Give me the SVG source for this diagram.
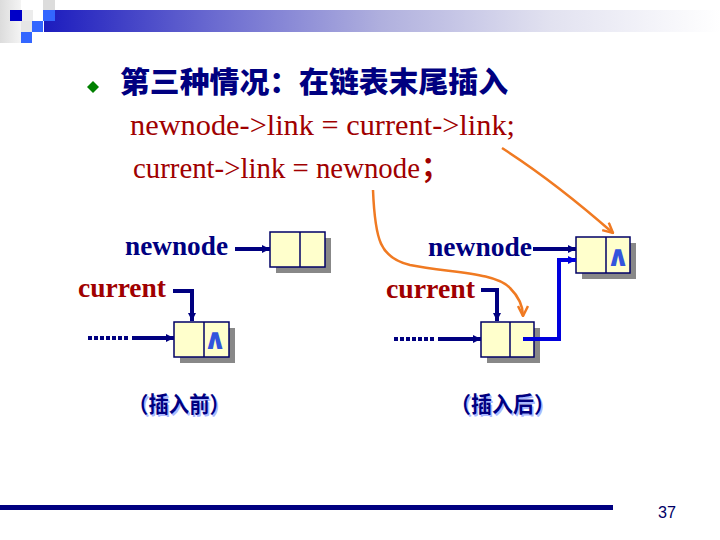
<svg xmlns="http://www.w3.org/2000/svg" width="720" height="540" viewBox="0 0 720 540">
<style>
.box{fill:#ffffcc;stroke:#000066;stroke-width:1.5}
.shadow{fill:#888888}
.div{stroke:#000066;stroke-width:1.5}
.conn{stroke:#000080;stroke-width:4;fill:none}
.connb{stroke:#0000dd;stroke-width:4;fill:none}
.dots{stroke:#000080;stroke-width:4;stroke-dasharray:4 2;fill:none}
.orange{stroke:#f07a22;stroke-width:2.5;fill:none}
.nil{font-family:"DejaVu Sans",sans-serif;font-weight:bold;font-size:29px;fill:#3355dd;text-anchor:middle}
.lblb{font-family:"Liberation Serif",serif;font-weight:bold;font-size:27px;fill:#000080}
.lblr{font-family:"Liberation Serif",serif;font-weight:bold;font-size:27px;fill:#a00000}
.code{font-family:"Liberation Serif","Noto Sans CJK SC",serif;font-size:29px;fill:#a00000}
.cap{font-family:"Noto Sans CJK SC",sans-serif;font-weight:bold;font-size:22px}
</style>
<defs>
<linearGradient id="bar" x1="0" y1="0" x2="1" y2="0">
<stop offset="0" stop-color="#1c1cbe"/>
<stop offset="0.25" stop-color="#6a6ad0"/>
<stop offset="0.5" stop-color="#b0b0de"/>
<stop offset="0.75" stop-color="#e2e2f0"/>
<stop offset="1" stop-color="#ffffff"/>
</linearGradient>
<linearGradient id="gry" x1="0" y1="0" x2="1" y2="0">
<stop offset="0" stop-color="#dcdcdc"/>
<stop offset="1" stop-color="#f4f4f4"/>
</linearGradient>
<marker id="ah" viewBox="0 0 8 8" refX="8" refY="4" markerWidth="8" markerHeight="8" markerUnits="userSpaceOnUse" orient="auto"><path d="M0,0 L8,4 L0,8 z" fill="#000080"/></marker>
<marker id="ahb" viewBox="0 0 8 8" refX="8" refY="4" markerWidth="8" markerHeight="8" markerUnits="userSpaceOnUse" orient="auto"><path d="M0,0 L8,4 L0,8 z" fill="#0000dd"/></marker>
<marker id="oh" viewBox="0 0 12 12" refX="11" refY="6" markerWidth="12" markerHeight="12" markerUnits="userSpaceOnUse" orient="auto"><path d="M1,1 L11,6 L1,11" fill="none" stroke="#f07a22" stroke-width="2.5"/></marker>
</defs>
<rect width="720" height="540" fill="#ffffff"/>
<g id="banner">
<rect x="0" y="0" width="21" height="43" fill="url(#gry)"/>
<rect x="43" y="0" width="12" height="10" fill="#dcdcdc"/>
<rect x="22" y="10" width="11" height="11" fill="#ececec"/>
<rect x="44" y="10" width="676" height="22" fill="url(#bar)"/>
<rect x="10" y="10" width="12" height="11" fill="#0000c8"/>
<rect x="43" y="10" width="12" height="11" fill="#3366ff"/>
<rect x="21" y="21" width="11" height="11" fill="#e6e6e6"/>
<rect x="32" y="21" width="11" height="11" fill="#3366ff"/>
<rect x="21" y="32" width="11" height="11" fill="#3366ff"/>
</g>
<g id="title">
<polygon points="93,81 99,87 93,93 87,87" fill="#008000"/>
<text x="120" y="93" font-family="'Noto Sans CJK SC',sans-serif" font-weight="900" font-size="29" fill="#000080" textLength="388" lengthAdjust="spacingAndGlyphs">第三种情况：在链表末尾插入</text>
<text class="code" x="130" y="135" textLength="385" lengthAdjust="spacingAndGlyphs">newnode-&gt;link = current-&gt;link;</text>
<text class="code" x="133" y="178" textLength="287" lengthAdjust="spacingAndGlyphs">current-&gt;link = newnode</text>
<text class="code" x="421" y="178" font-weight="bold" font-size="26">；</text>
</g>
<g id="node-newnode-before">
<rect class="shadow" x="276" y="238" width="55" height="35"/>
<rect class="box" x="270" y="232" width="55" height="35"/>
<line class="div" x1="300" y1="232" x2="300" y2="267"/>
</g>
<g id="node-current-before">
<rect class="shadow" x="180" y="328" width="55" height="35"/>
<rect class="box" x="174" y="322" width="55" height="35"/>
<line class="div" x1="204" y1="322" x2="204" y2="357"/>
<text class="nil" x="215" y="349">∧</text>
</g>
<g id="node-newnode-after">
<rect class="shadow" x="582" y="243" width="54" height="36"/>
<rect class="box" x="576" y="237" width="54" height="36"/>
<line class="div" x1="606" y1="237" x2="606" y2="273"/>
<text class="nil" x="618" y="266">∧</text>
</g>
<g id="node-current-after">
<rect class="shadow" x="487" y="328" width="53" height="35"/>
<rect class="box" x="481" y="322" width="53" height="35"/>
<line class="div" x1="510" y1="322" x2="510" y2="357"/>
</g>
<g id="labels">
<text class="lblb" x="125" y="255" textLength="103" lengthAdjust="spacingAndGlyphs">newnode</text>
<text class="lblr" x="78" y="297" textLength="88" lengthAdjust="spacingAndGlyphs">current</text>
<text class="lblb" x="428" y="256" textLength="104" lengthAdjust="spacingAndGlyphs">newnode</text>
<text class="lblr" x="386" y="298" textLength="89" lengthAdjust="spacingAndGlyphs">current</text>
<text class="cap" x="129.5" y="413.5" fill="#aab8ff" textLength="102" lengthAdjust="spacingAndGlyphs">（插入前）</text>
<text class="cap" x="128" y="412" fill="#000080" textLength="102" lengthAdjust="spacingAndGlyphs">（插入前）</text>
<text class="cap" x="451.5" y="413.5" fill="#aab8ff" textLength="105" lengthAdjust="spacingAndGlyphs">（插入后）</text>
<text class="cap" x="450" y="412" fill="#000080" textLength="105" lengthAdjust="spacingAndGlyphs">（插入后）</text>
</g>
<g id="connectors">
<line class="conn" x1="235" y1="249" x2="270" y2="249" marker-end="url(#ah)"/>
<polyline class="conn" points="173,291 192,291 192,321" marker-end="url(#ah)"/>
<line class="dots" x1="88" y1="338" x2="128" y2="338"/>
<line class="conn" x1="132" y1="338" x2="174" y2="338" marker-end="url(#ah)"/>
<line class="conn" x1="533" y1="249" x2="576" y2="249" marker-end="url(#ah)"/>
<polyline class="connb" points="523,339 559,339 559,260 576,260" marker-end="url(#ahb)"/>
<polyline class="conn" points="481,290 497,290 497,321" marker-end="url(#ah)"/>
<line class="dots" x1="394" y1="339" x2="434" y2="339"/>
<line class="conn" x1="438" y1="339" x2="481" y2="339" marker-end="url(#ah)"/>
<path class="orange" d="M373,190 C375,240 380,258 410,265 C450,273 495,272 510,288 C520,298 523,308 523,316" marker-end="url(#oh)"/>
<path class="orange" d="M502,148 Q555,182 613,233" marker-end="url(#oh)"/>
</g>
<g id="footer">
<rect x="0" y="505" width="613" height="5" fill="#000080"/>
<text x="658" y="518" font-family="'Liberation Sans Narrow','Liberation Sans',sans-serif" font-size="16" fill="#000066" textLength="18" lengthAdjust="spacingAndGlyphs">37</text>
</g>
</svg>
